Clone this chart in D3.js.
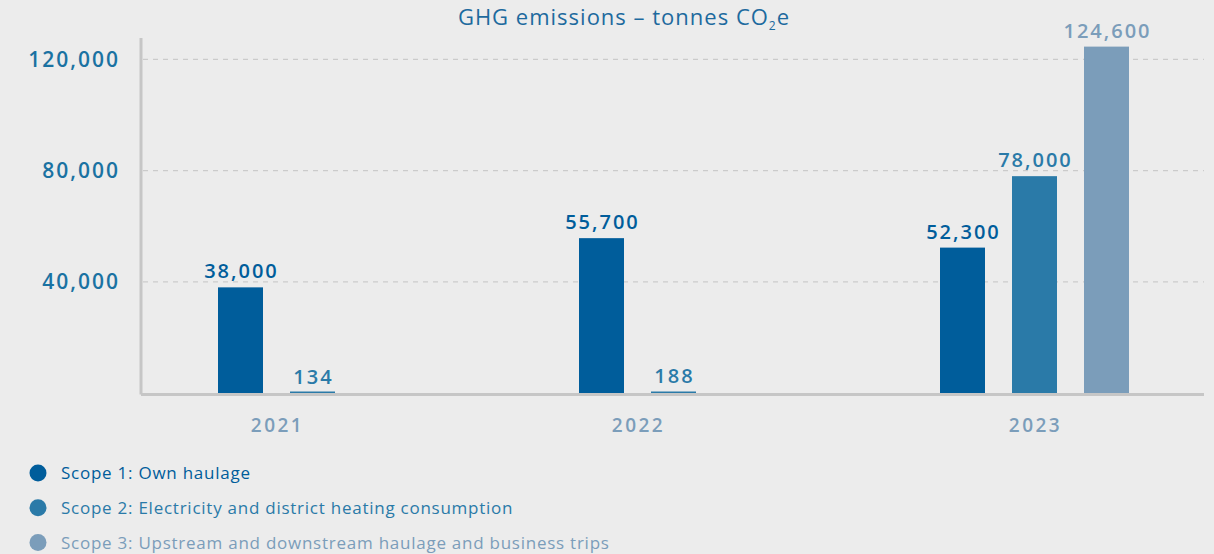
<!DOCTYPE html>
<html>
<head>
<meta charset="utf-8">
<script src="https://cdn.jsdelivr.net/npm/d3@7"></script>
<style>
  body { margin: 0; background: #ececec; }
  svg { display: block; font-family: "Open Sans", Lato, sans-serif; }
</style>
</head>
<body>
<div id="chart"></div>
<script>
// data
var years = ["2021", "2022", "2023"];
var series = ["Scope 1: Own haulage",
  "Scope 2: Electricity and district heating consumption",
  "Scope 3: Upstream and downstream haulage and business trips"];
var scope1 = [38000, 55700, 52300];
var scope2 = [134, 188, 78000];
var scope3 = [null, null, 124600];
var yTicks = [40000, 80000, 120000];
var colors = ["#005d9b", "#2a7aa8", "#7b9dba"];

var W = 1214, H = 554;
var plotLeft = 141, plotRight = 1204, plotTop = 38, plotBase = 393;

var svg = d3.select("#chart").append("svg")
  .attr("width", W)
  .attr("height", H);

svg.append("rect").attr("width", W).attr("height", H).attr("fill", "#ececec");

var x0 = d3.scaleBand().domain(years).range([132, 1215]);
var x1 = d3.scaleBand().domain([0, 1, 2]).range([-108, 108])
  .paddingInner(0.375).paddingOuter(0.1875);
var y = d3.scaleLinear().domain([0, 127700]).range([plotBase, plotTop]);

// gridlines
svg.append("g").selectAll("line").data(yTicks).join("line")
  .attr("x1", plotLeft + 2).attr("x2", plotRight)
  .attr("y1", d => y(d)).attr("y2", d => y(d))
  .attr("stroke", "#cbcbcb")
  .attr("stroke-width", 1.3)
  .attr("stroke-dasharray", "5,5");

// y tick labels
svg.append("g").selectAll("text").data(yTicks).join("text")
  .attr("x", 120).attr("y", d => y(d))
  .attr("dy", "0.36em")
  .attr("text-anchor", "end")
  .attr("fill", "#1a72a2")
  .style("font-size", "21px")
  .style("font-weight", 600)
  .style("letter-spacing", "2px")
  .text(d3.format(","));

// title
var title = svg.append("text")
  .attr("x", 624).attr("y", 25)
  .attr("text-anchor", "middle")
  .attr("fill", "#1d6a9e")
  .style("font-size", "22px")
  .style("letter-spacing", "1px");
title.append("tspan").text("GHG emissions – tonnes CO");
title.append("tspan").attr("dy", 5).style("font-size", "12px").text("2");
title.append("tspan").attr("dy", -5).text("e");

// bars
var rows = [];
years.forEach(function(yr, i) {
  [scope1[i], scope2[i], scope3[i]].forEach(function(v, s) {
    if (v != null) rows.push({ year: yr, s: s, v: v });
  });
});

var bars = svg.append("g");
bars.selectAll("rect").data(rows).join("rect")
  .attr("x", d => x0(d.year) + x0.bandwidth() / 2 + x1(d.s))
  .attr("width", x1.bandwidth())
  .attr("y", d => Math.min(y(d.v), plotBase - 1.5))
  .attr("height", d => Math.max(plotBase - y(d.v), 1.5))
  .attr("fill", d => colors[d.s]);

bars.selectAll("text").data(rows).join("text")
  .attr("x", d => x0(d.year) + x0.bandwidth() / 2 + x1(d.s) + x1.bandwidth() / 2 + 1)
  .attr("y", d => y(d.v) - 9)
  .attr("text-anchor", "middle")
  .attr("fill", d => colors[d.s])
  .style("font-size", "20px")
  .style("font-weight", 600)
  .style("letter-spacing", "2px")
  .text(d => d3.format(",")(d.v));

// axes lines
svg.append("line")
  .attr("x1", plotLeft).attr("x2", plotLeft).attr("y1", plotTop).attr("y2", plotBase + 1.5)
  .attr("stroke", "#c6c6c6").attr("stroke-width", 3);
svg.append("line")
  .attr("x1", plotLeft).attr("x2", plotRight).attr("y1", plotBase + 1.5).attr("y2", plotBase + 1.5)
  .attr("stroke", "#c6c6c6").attr("stroke-width", 3);

// year labels centred under the bars present
svg.append("g").selectAll("text").data(years).join("text")
  .attr("x", function(yr) {
    var c = rows.filter(r => r.year === yr)
      .map(r => x0(yr) + x0.bandwidth() / 2 + x1(r.s) + x1.bandwidth() / 2);
    return d3.mean(c) + 1;
  })
  .attr("y", 432)
  .attr("text-anchor", "middle")
  .attr("fill", "#7b9dba")
  .style("font-size", "19px")
  .style("font-weight", 600)
  .style("letter-spacing", "2.5px")
  .text(d => d);

// legend
var leg = svg.append("g").selectAll("g").data(series).join("g")
  .attr("transform", (d, i) => "translate(0," + (473 + i * 34.8) + ")");
leg.append("circle").attr("cx", 38).attr("cy", 0).attr("r", 8.5)
  .attr("fill", (d, i) => colors[i]);
leg.append("text").attr("x", 61).attr("y", 0).attr("dy", "0.35em")
  .attr("fill", (d, i) => colors[i])
  .style("font-size", "17px")
  .style("letter-spacing", "0.75px")
  .text(d => d);
</script>
</body>
</html>
